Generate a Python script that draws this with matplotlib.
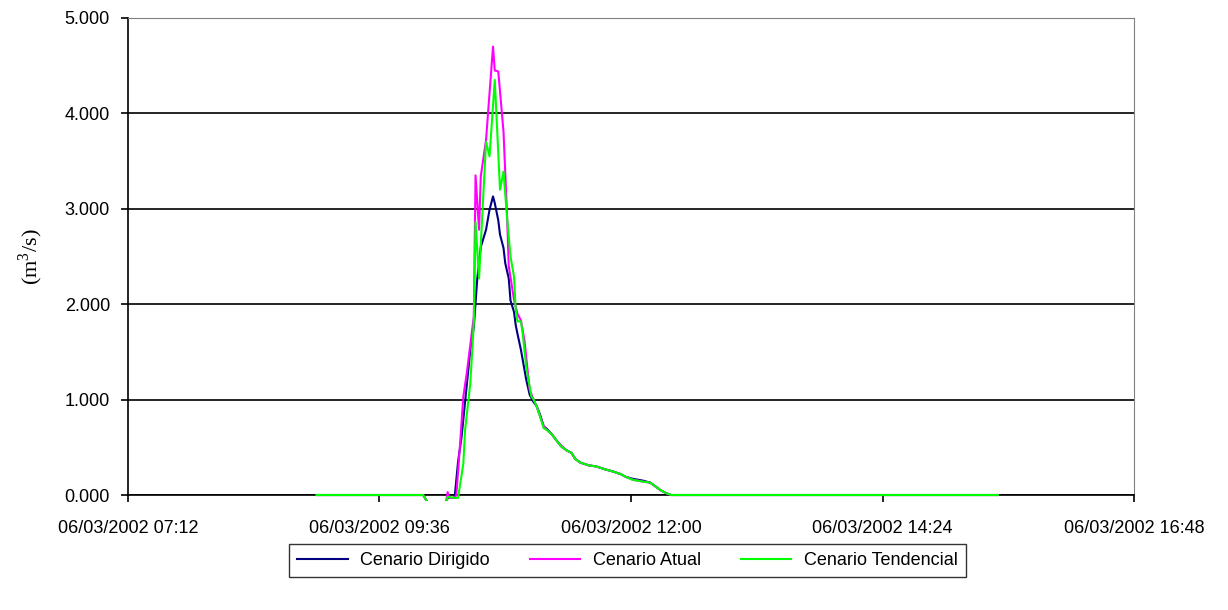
import matplotlib
matplotlib.use("Agg")
import matplotlib.pyplot as plt
import matplotlib.dates as mdates
from matplotlib.patches import Rectangle
import pandas as pd

plt.rcParams["mathtext.fontset"] = "custom"
plt.rcParams["mathtext.rm"] = "Liberation Serif"

day = "2002-03-06 "

# Cenario Dirigido
t_dirigido = ["09:00", "10:01", "10:03", "10:05", "10:12", "10:15", "10:19", "10:21", "10:23",
              "10:28", "10:30", "10:32", "10:34", "10:37", "10:39", "10:41", "10:42", "10:44",
              "10:45", "10:47", "10:48", "10:50", "10:51", "10:53", "10:54", "10:55", "10:57",
              "11:00", "11:02", "11:04", "11:06", "11:08", "11:10", "11:12", "11:15", "11:17",
              "11:20", "11:23", "11:26", "11:28", "11:31", "11:36", "11:40", "11:45", "11:49",
              "11:54", "11:57", "12:01", "12:07", "12:11", "12:14", "12:17", "12:20", "12:23",
              "15:30"]
q_dirigido = [0.0, 0.0, -0.06, -0.2, -0.2, -0.03, -0.03, 0.35, 0.61,
              1.52, 1.76, 2.27, 2.60, 2.78, 2.99, 3.13, 3.06, 2.88,
              2.73, 2.59, 2.43, 2.27, 2.04, 1.92, 1.78, 1.69, 1.52,
              1.21, 1.05, 0.98, 0.93, 0.84, 0.72, 0.69, 0.63, 0.58,
              0.51, 0.47, 0.44, 0.38, 0.34, 0.31, 0.30, 0.27, 0.25,
              0.22, 0.19, 0.17, 0.15, 0.13, 0.09, 0.05, 0.02, 0.0,
              0.0]

# Cenario Atual
t_atual = ["09:00", "10:01", "10:03", "10:05", "10:13", "10:15", "10:16", "10:19", "10:20",
           "10:22", "10:24", "10:26", "10:30", "10:31", "10:33", "10:34", "10:37", "10:41",
           "10:42", "10:44", "10:47", "10:49", "10:50", "10:53", "10:55", "10:57", "10:59",
           "11:02", "11:04", "11:06", "11:08", "11:10", "11:12", "11:15", "11:17",
           "11:20", "11:23", "11:26", "11:28", "11:31", "11:36", "11:40", "11:45", "11:49",
           "11:54", "11:57", "12:01", "12:07", "12:11", "12:14", "12:17", "12:20", "12:23",
           "15:30"]
q_atual = [0.0, 0.0, -0.06, -0.2, -0.2, 0.03, -0.03, -0.03, 0.0,
           0.5, 1.03, 1.28, 1.87, 3.35, 2.78, 3.34, 3.72, 4.70,
           4.45, 4.44, 3.81, 2.95, 2.40, 2.05, 1.90, 1.83, 1.62,
           1.10, 1.01, 0.93, 0.82, 0.72, 0.68, 0.63, 0.58,
           0.52, 0.47, 0.44, 0.38, 0.34, 0.31, 0.30, 0.27, 0.25,
           0.22, 0.19, 0.16, 0.14, 0.13, 0.09, 0.05, 0.02, 0.0,
           0.0]

# Cenario Tendencial
t_tendencial = ["09:00", "10:01", "10:03", "10:05", "10:13", "10:15", "10:19", "10:21", "10:24",
                "10:25", "10:28", "10:30", "10:31", "10:33", "10:37", "10:39", "10:42", "10:45",
                "10:47", "10:49", "10:51", "10:53", "10:54", "10:55", "10:57", "10:58", "11:00",
                "11:03", "11:04", "11:06", "11:08", "11:10", "11:12", "11:15", "11:17",
                "11:20", "11:23", "11:26", "11:28", "11:31", "11:36", "11:40", "11:45", "11:49",
                "11:54", "11:57", "12:01", "12:07", "12:11", "12:14", "12:17", "12:20", "12:23",
                "15:30"]
q_tendencial = [0.0, 0.0, -0.06, -0.2, -0.2, -0.02, -0.03, -0.03, 0.33,
                0.68, 1.17, 1.80, 2.86, 2.27, 3.70, 3.55, 4.35, 3.20,
                3.39, 2.92, 2.50, 2.29, 1.94, 1.82, 1.82, 1.69, 1.34,
                1.03, 1.01, 0.93, 0.82, 0.70, 0.68, 0.63, 0.58,
                0.51, 0.47, 0.44, 0.38, 0.34, 0.31, 0.30, 0.27, 0.25,
                0.22, 0.19, 0.16, 0.14, 0.13, 0.09, 0.05, 0.02, 0.0,
                0.0]

x_ticks = ["07:12", "09:36", "12:00", "14:24", "16:48"]
y_ticks = [0, 1, 2, 3, 4, 5]

series = [
    ("Cenario Dirigido", t_dirigido, q_dirigido, "#000080"),
    ("Cenario Atual", t_atual, q_atual, "#FF00FF"),
    ("Cenario Tendencial", t_tendencial, q_tendencial, "#00FF00"),
]

fig = plt.figure(figsize=(12.28, 6.10), dpi=100)
ax = fig.add_axes([0.1042, 0.1885, 0.8193, 0.782])

clip = Rectangle((0, -0.013), 1, 1.026, transform=ax.transAxes, fill=False, visible=False)
ax.add_patch(clip)

for name, t, q, c in series:
    tt = pd.to_datetime([day + s for s in t])
    line, = ax.plot(tt, q, color=c, lw=1.5, label=name, zorder=3)
    line.set_clip_path(clip)

xt = pd.to_datetime([day + s for s in x_ticks])
ax.set_xlim(xt[0], xt[-1])
ax.set_xticks(xt)
ax.xaxis.set_major_formatter(mdates.DateFormatter("%d/%m/%Y %H:%M"))
ax.set_ylim(0, 5)
ax.set_yticks(y_ticks)
ax.yaxis.set_major_formatter(plt.FuncFormatter(lambda v, p: "%.3f" % v))

ax.grid(axis="y", color="black", lw=1.2)
ax.set_axisbelow(True)
for s in ["top", "right"]:
    ax.spines[s].set_color("#808080")
for s in ["left", "bottom"]:
    ax.spines[s].set_color("black")
    ax.spines[s].set_linewidth(1.2)
ax.tick_params(direction="out", length=5, width=1.2, labelsize=13, pad=8)
for lab in ax.get_xticklabels() + ax.get_yticklabels():
    lab.set_fontfamily("Liberation Sans")
ax.tick_params(axis="x", pad=13)

ax.set_ylabel("(m$^3$/s)", fontfamily="Liberation Serif", fontsize=16, labelpad=14)

leg = fig.legend(loc="center", bbox_to_anchor=(0.511, 0.081), ncol=3, frameon=True,
                 fancybox=False, edgecolor="black", handlelength=2.8, columnspacing=2.2,
                 handletextpad=0.7, prop={"family": "Liberation Sans", "size": 13},
                 borderpad=0.45)
leg.get_frame().set_linewidth(1.0)

fig.savefig("out.png", dpi=100)
